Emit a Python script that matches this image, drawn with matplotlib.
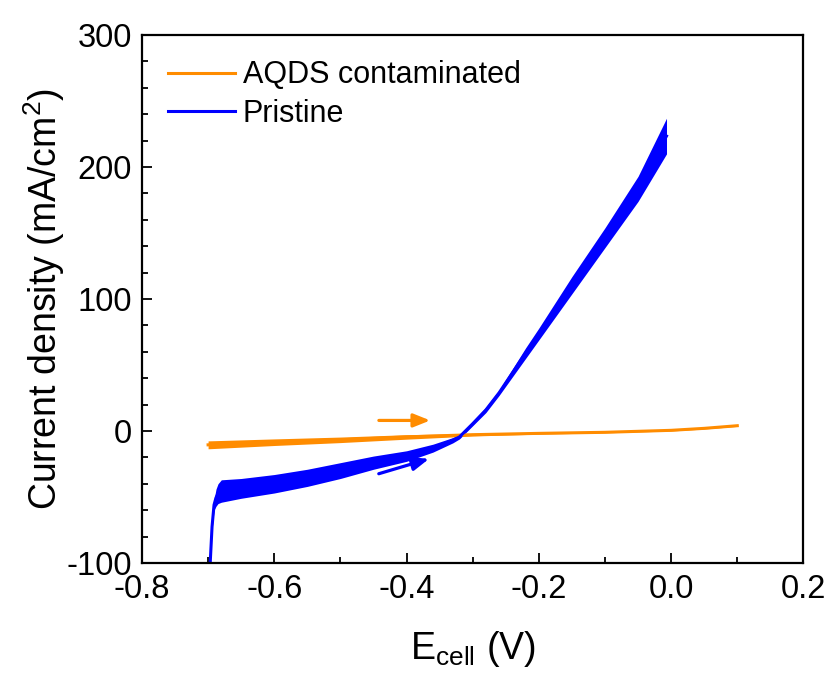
import matplotlib
matplotlib.use("Agg")
import matplotlib.pyplot as plt
import numpy as np
from matplotlib.ticker import MultipleLocator

plt.rcParams['font.family'] = ['Liberation Sans', 'DejaVu Sans']
plt.rcParams['axes.unicode_minus'] = False
plt.rcParams['mathtext.fontset'] = 'custom'
plt.rcParams['mathtext.rm'] = 'Liberation Sans'
plt.rcParams['mathtext.it'] = 'Liberation Sans'

# ---- data ----
# Pristine: envelope of the oscillating trace
pristine_x = [-0.697, -0.694, -0.691, -0.688, -0.685, -0.680, -0.650, -0.600, -0.550,
              -0.500, -0.450, -0.400, -0.360, -0.330, -0.320, -0.300, -0.280, -0.260,
              -0.240, -0.220, -0.200, -0.150, -0.100, -0.050, -0.007]
pristine_lo = [-102, -75, -60, -57, -55, -54, -51, -47, -42,
               -36, -29, -23, -16, -9, -6, 4, 14, 27,
               41, 55, 69, 104, 139, 174, 210]
pristine_hi = [-102, -70, -52, -44, -40, -37, -36, -33, -29,
               -24, -19, -15, -10, -5, -3, 7, 18, 31,
               47, 63, 78, 117, 154, 193, 237]

# AQDS contaminated: envelope of the trace
aqds_x = [-0.700, -0.600, -0.500, -0.400, -0.300, -0.200, -0.100, 0.000, 0.050, 0.100]
aqds_lo = [-13.5, -11.0, -8.8, -6.2, -3.8, -2.4, -1.4, 0.0, 1.5, 3.5]
aqds_hi = [-7.5, -6.0, -4.6, -2.8, -1.8, -1.2, -0.6, 1.0, 2.5, 4.5]

series_labels = ["AQDS contaminated", "Pristine"]
orange = "#FF8C00"
blue = "#0000FF"

# scan-direction arrows (start x, start y, end x, end y)
arrow_orange = [-0.446, 8.0, -0.360, 8.0]
arrow_blue = [-0.446, -33.0, -0.362, -20.5]

fig = plt.figure(figsize=(8.3, 6.75), dpi=100)
ax = fig.add_axes([0.171, 0.166, 0.797, 0.782])

ax.fill_between(aqds_x, aqds_lo, aqds_hi, color=orange, lw=0)
ax.plot(aqds_x, (np.array(aqds_lo) + np.array(aqds_hi)) / 2, color=orange, lw=2.2,
        label=series_labels[0])
ax.fill_between(pristine_x, pristine_lo, pristine_hi, color=blue, lw=0)
ax.plot(pristine_x, (np.array(pristine_lo) + np.array(pristine_hi)) / 2, color=blue, lw=2.2,
        label=series_labels[1])

ax.annotate("", xy=(arrow_orange[2], arrow_orange[3]), xytext=(arrow_orange[0], arrow_orange[1]),
            arrowprops=dict(arrowstyle="-|>,head_length=1.0,head_width=0.4", color=orange, lw=2.3))
ax.annotate("", xy=(arrow_blue[2], arrow_blue[3]), xytext=(arrow_blue[0], arrow_blue[1]),
            arrowprops=dict(arrowstyle="-|>,head_length=1.0,head_width=0.4", color=blue, lw=2.3))

ax.set_xlim(-0.8, 0.2)
ax.set_ylim(-100, 300)
ax.xaxis.set_major_locator(MultipleLocator(0.2))
ax.xaxis.set_minor_locator(MultipleLocator(0.1))
ax.yaxis.set_major_locator(MultipleLocator(100))
ax.yaxis.set_minor_locator(MultipleLocator(20))
ax.xaxis.set_major_formatter(matplotlib.ticker.FormatStrFormatter('%.1f'))

ax.tick_params(which='both', direction='in', top=False, right=False, labelsize=23.5, width=1.3)
ax.tick_params(which='major', length=7)
ax.tick_params(which='minor', length=4)
ax.tick_params(axis='x', pad=8)
ax.tick_params(axis='y', pad=7)
for s in ax.spines.values():
    s.set_linewidth(1.6)

ax.set_xlabel(r"E$_{\rm cell}$ (V)", fontsize=27, labelpad=17)
ax.set_ylabel(r"Current density (mA/cm$^{2}$)", fontsize=27, labelpad=0)

ax.legend(loc='upper left', bbox_to_anchor=(0.039, 0.952), frameon=False, fontsize=22,
          borderpad=0, borderaxespad=0, handlelength=2.2, handletextpad=0.25,
          labelspacing=0.28)

fig.savefig("out.png", dpi=100)
